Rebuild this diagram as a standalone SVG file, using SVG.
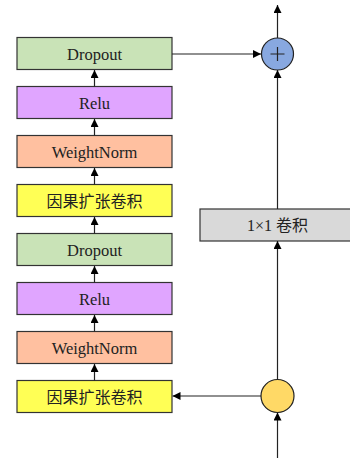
<svg xmlns="http://www.w3.org/2000/svg" width="350" height="459" viewBox="0 0 350 459">
  <defs>
    <marker id="arrow" viewBox="0 0 10 10" refX="10" refY="5" markerWidth="8" markerHeight="8" markerUnits="userSpaceOnUse" orient="auto">
      <path d="M0,0 L10,5 L0,10 Z" fill="#000"/>
    </marker>
  </defs>
  <style>
    .box { stroke: #333; stroke-width: 1.2; }
    .drop { fill: #c9e3b7; }
    .relu { fill: #e0a5ff; }
    .wn { fill: #ffc0a0; }
    .conv { fill: #ffff55; }
    .gray { fill: #d9d9d9; }
    .lbl { font-family: "Liberation Serif", "Noto Sans CJK SC", serif; font-size: 16.5px; fill: #222; text-anchor: middle; }
    .cjk { font-family: "Liberation Serif", "Noto Sans CJK SC", serif; font-size: 16px; fill: #222; text-anchor: middle; }
    .edge { stroke: #222; stroke-width: 1.2; fill: none; marker-end: url(#arrow); }
  </style>

  <g id="dropout1">
    <rect class="box drop" x="17" y="37.5" width="155" height="32"/>
    <text class="lbl" x="94.5" y="59.5">Dropout</text>
  </g>
  <g id="relu1">
    <rect class="box relu" x="17" y="86.5" width="155" height="32"/>
    <text class="lbl" x="94.5" y="108.5">Relu</text>
  </g>
  <g id="weightnorm1">
    <rect class="box wn" x="17" y="135.5" width="155" height="32"/>
    <text class="lbl" x="94.5" y="157.5">WeightNorm</text>
  </g>
  <g id="causalconv1">
    <rect class="box conv" x="17" y="184.5" width="155" height="32"/>
    <text class="cjk" x="94.5" y="206.5">因果扩张卷积</text>
  </g>
  <g id="dropout2">
    <rect class="box drop" x="17" y="233.5" width="155" height="32"/>
    <text class="lbl" x="94.5" y="255.5">Dropout</text>
  </g>
  <g id="relu2">
    <rect class="box relu" x="17" y="282.5" width="155" height="32"/>
    <text class="lbl" x="94.5" y="304.5">Relu</text>
  </g>
  <g id="weightnorm2">
    <rect class="box wn" x="17" y="331.5" width="155" height="32"/>
    <text class="lbl" x="94.5" y="353.5">WeightNorm</text>
  </g>
  <g id="causalconv2">
    <rect class="box conv" x="17" y="380.5" width="155" height="32"/>
    <text class="cjk" x="94.5" y="402.5">因果扩张卷积</text>
  </g>

  <g id="conv1x1">
    <rect class="box gray" x="200" y="209" width="155" height="32"/>
    <text class="cjk" x="277.5" y="231">1×1 卷积</text>
  </g>

  <g id="add">
    <circle cx="277.5" cy="54" r="16" fill="#88a8e0" stroke="#222" stroke-width="1.2"/>
    <path d="M270.5,54 H284.5 M277.5,47 V61" stroke="#222" stroke-width="1.2"/>
  </g>

  <g id="split">
    <circle cx="277.5" cy="396" r="16.5" fill="#ffd966" stroke="#222" stroke-width="1.2"/>
  </g>

  <g id="connectors">
    <line class="edge" x1="94.5" y1="86.5" x2="94.5" y2="70"/>
    <line class="edge" x1="94.5" y1="135.5" x2="94.5" y2="119"/>
    <line class="edge" x1="94.5" y1="184.5" x2="94.5" y2="168"/>
    <line class="edge" x1="94.5" y1="233.5" x2="94.5" y2="217"/>
    <line class="edge" x1="94.5" y1="282.5" x2="94.5" y2="266"/>
    <line class="edge" x1="94.5" y1="331.5" x2="94.5" y2="315"/>
    <line class="edge" x1="94.5" y1="380.5" x2="94.5" y2="364"/>
    <line class="edge" x1="172" y1="54" x2="261" y2="54"/>
    <line class="edge" x1="277.5" y1="38" x2="277.5" y2="5"/>
    <line class="edge" x1="277.5" y1="209" x2="277.5" y2="70"/>
    <line class="edge" x1="277.5" y1="379.5" x2="277.5" y2="241"/>
    <line class="edge" x1="277.5" y1="458" x2="277.5" y2="412.5"/>
    <line class="edge" x1="261" y1="396" x2="172.5" y2="396"/>
  </g>
</svg>
